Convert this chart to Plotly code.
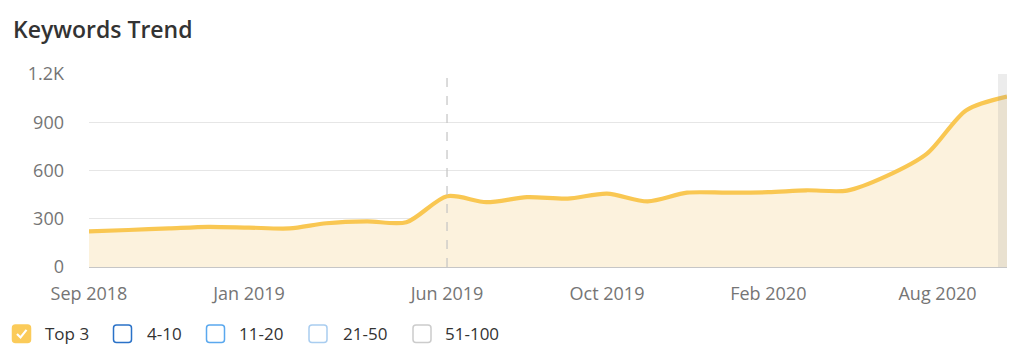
import plotly.graph_objects as go

# ---- data ----
months = ["2018-09-01", "2018-10-01", "2018-11-01", "2018-12-01",
          "2019-01-01", "2019-02-01", "2019-03-01", "2019-04-01",
          "2019-05-01", "2019-06-01", "2019-07-01", "2019-08-01",
          "2019-09-01", "2019-10-01", "2019-11-01", "2019-12-01",
          "2020-01-01", "2020-02-01", "2020-03-01", "2020-04-01",
          "2020-05-01", "2020-06-01", "2020-07-01", "2020-08-01"]
top3 = [222, 230, 240, 250, 245, 240, 272, 284, 278, 440, 403, 434,
        425, 456, 408, 462, 462, 465, 477, 475, 565, 705, 975, 1060]

x_tick_vals = ["2018-09-01", "2019-01-01", "2019-06-01", "2019-10-01",
               "2020-02-01", "2020-06-09"]
x_tick_text = ["Sep 2018", "Jan 2019", "Jun 2019", "Oct 2019", "Feb 2020", "Aug 2020"]
y_tick_vals = [0, 300, 600, 900, 1200]
y_tick_text = ["0", "300", "600", "900", "1.2K"]

legend_labels = ["Top 3", "4-10", "11-20", "21-50", "51-100"]
legend_colors = ["#fbcb5a", "#2a72c8", "#5aa8ee", "#a9cdf0", "#cccccc"]
legend_checked = [True, False, False, False, False]
marker_date = "2019-06-01"

# ---- layout geometry (page pixels; page body has an 8px margin) ----
OFF = 8
FW, FH = 1024 - OFF, 359 - OFF
L, R, T, B = 89 - OFF, 1007 - OFF, 74.3 - OFF, 267.5 - OFF
PW, PH = R - L, B - T


def px2x(px):
    return (px - OFF - L) / PW


def py2y(py):
    return (B - (py - OFF)) / PH


FONT = "Open Sans"

fig = go.Figure()
fig.add_trace(go.Scatter(
    x=months, y=top3, mode="lines",
    line=dict(color="#f9c752", width=4.2, shape="spline", smoothing=0.8),
    fill="tozeroy", fillcolor="#fcf2dd",
    hoverinfo="x+y", showlegend=False,
))

shapes = []
shapes.append(dict(type="line", xref="x", yref="paper", x0=marker_date, x1=marker_date,
                   y0=0, y1=1, line=dict(color="#c4c4c4", width=1.2, dash="dash"), layer="above"))
shapes.append(dict(type="rect", xref="paper", yref="paper", x0=px2x(998), x1=1,
                   y0=0, y1=1, fillcolor="rgba(150,150,150,0.18)", line=dict(width=0),
                   layer="above"))


def rounded_box(x0, y0, x1, y1, r):
    X = px2x
    Y = py2y
    return (f"M {X(x0+r)},{Y(y0)} L {X(x1-r)},{Y(y0)} Q {X(x1)},{Y(y0)} {X(x1)},{Y(y0+r)} "
            f"L {X(x1)},{Y(y1-r)} Q {X(x1)},{Y(y1)} {X(x1-r)},{Y(y1)} "
            f"L {X(x0+r)},{Y(y1)} Q {X(x0)},{Y(y1)} {X(x0)},{Y(y1-r)} "
            f"L {X(x0)},{Y(y0+r)} Q {X(x0)},{Y(y0)} {X(x0+r)},{Y(y0)} Z")


annotations = []
annotations.append(dict(text="Keywords Trend", xref="paper", yref="paper",
                        x=px2x(11), y=py2y(29), xanchor="left", yanchor="middle",
                        showarrow=False,
                        font=dict(family=FONT, size=23, color="#333333", weight=600)))

box_x = [12.5, 113.5, 206.5, 309, 413]
text_x = [43, 145, 237, 341, 443]
for bx, tx, lab, col, chk in zip(box_x, text_x, legend_labels, legend_colors, legend_checked):
    path = rounded_box(bx, 325.5, bx + 18, 343, 3)
    if chk:
        shapes.append(dict(type="path", xref="paper", yref="paper", path=path,
                           fillcolor=col, line=dict(color=col, width=1.5)))
        ck = (f"M {px2x(bx+4.5)},{py2y(334.5)} L {px2x(bx+8)},{py2y(338)} "
              f"L {px2x(bx+14)},{py2y(330.5)}")
        shapes.append(dict(type="path", xref="paper", yref="paper", path=ck,
                           line=dict(color="white", width=2.2)))
    else:
        shapes.append(dict(type="path", xref="paper", yref="paper", path=path,
                           fillcolor="white", line=dict(color=col, width=1.5)))
    annotations.append(dict(text=lab, xref="paper", yref="paper", x=px2x(tx), y=py2y(334.5),
                            xanchor="left", yanchor="middle", showarrow=False,
                            font=dict(family=FONT, size=17, color="#333333")))

fig.update_layout(
    width=FW, height=FH, autosize=False,
    margin=dict(l=L, r=FW - R, t=T, b=FH - B, pad=0),
    paper_bgcolor="white", plot_bgcolor="white",
    font=dict(family=FONT, size=18, color="#757575"),
    shapes=shapes, annotations=annotations,
    showlegend=False,
    xaxis=dict(type="date", range=["2018-09-01", "2020-08-01"],
               tickvals=x_tick_vals, ticktext=x_tick_text,
               showgrid=False, zeroline=False, showline=False,
               ticks="outside", ticklen=10, tickcolor="rgba(0,0,0,0)",
               tickfont=dict(family=FONT, size=18, color="#757575"),
               fixedrange=True),
    yaxis=dict(range=[0, 1200], tickvals=y_tick_vals, ticktext=y_tick_text,
               showgrid=True, gridcolor="#e6e6e6", gridwidth=1,
               zeroline=True, zerolinecolor="#c6c6c6", zerolinewidth=2,
               showline=False, ticks="", ticklabelstandoff=24,
               tickfont=dict(family=FONT, size=18, color="#757575"),
               fixedrange=True),
)

fig.write_html("out.html")
